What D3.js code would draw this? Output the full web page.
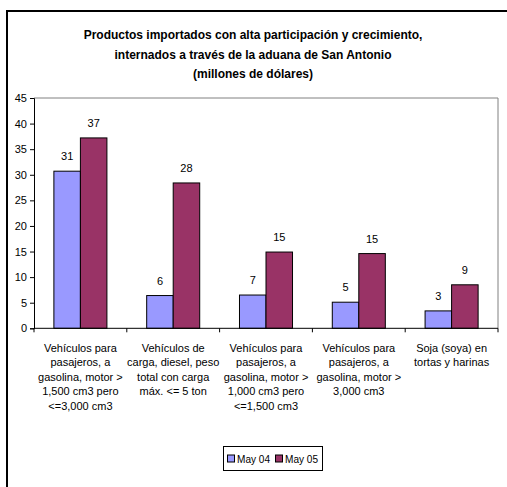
<!DOCTYPE html>
<html><head><meta charset="utf-8">
<script src="https://cdn.jsdelivr.net/npm/d3@7"></script>
<style>
html,body{margin:0;padding:0;background:#fff;}
svg{display:block;font-family:"Liberation Sans",Arial,sans-serif;}
</style></head><body>
<script>
const titleLines = ["Productos importados con alta participación y crecimiento,",
  "internados a través de la aduana de San Antonio",
  "(millones de dólares)"];
const categories = [
  ["Vehículos para","pasajeros, a","gasolina, motor >","1,500 cm3 pero","<=3,000 cm3"],
  ["Vehículos de","carga, diesel, peso","total con carga","máx. <= 5 ton"],
  ["Vehículos para","pasajeros, a","gasolina, motor >","1,000 cm3 pero","<=1,500 cm3"],
  ["Vehículos para","pasajeros, a","gasolina, motor >","3,000 cm3"],
  ["Soja (soya) en","tortas y harinas"]
];
const seriesNames = ["May 04","May 05"];
const may04 = [30.7, 6.4, 6.5, 5.1, 3.4];
const may05 = [37.2, 28.4, 14.9, 14.6, 8.5];
const yTicks = [0,5,10,15,20,25,30,35,40,45];
const colors = ["#9999FF","#993366"];

(function(){
const W=507,H=487;
const svg=d3.select("body").append("svg").attr("width",W).attr("height",H);
svg.append("rect").attr("x",7).attr("y",11).attr("width",520).attr("height",500)
  .attr("fill","#fff").attr("stroke","#000").attr("stroke-width",2);

svg.append("g").selectAll("text").data(titleLines).join("text")
  .attr("x",253).attr("y",(d,i)=>39+i*19.5).attr("text-anchor","middle")
  .attr("font-weight","bold").attr("font-size","12px").text(d=>d);

const pL=34,pR=498,pT=98,pB=328.3;
const y=d3.scaleLinear().domain([0,45]).range([pB,pT]);
const idx=d3.range(categories.length);
const x0=d3.scaleBand().domain(idx).range([pL,pR]).padding(0);
const x1=d3.scaleBand().domain([0,1]).range([0,x0.bandwidth()]).paddingInner(0).paddingOuter(0.75);

svg.append("path").attr("d",`M${pL},${pT}H${pR}V${pB}`).attr("fill","none")
  .attr("stroke","#808080").attr("stroke-width",1);

const yAxis=svg.append("g").attr("transform",`translate(${pL},0)`)
  .call(d3.axisLeft(y).tickValues(yTicks).tickSize(4).tickPadding(3));
yAxis.select(".domain").attr("stroke","#000");
yAxis.selectAll("text").attr("font-size","11px").attr("font-family","Liberation Sans,Arial,sans-serif").attr("fill","#000");

const vals=[may04,may05];
const g=svg.append("g");
idx.forEach(i=>{
  [0,1].forEach(s=>{
    const v=vals[s][i];
    g.append("rect").attr("x",x0(i)+x1(s)).attr("y",y(v))
      .attr("width",x1.bandwidth()).attr("height",y(0)-y(v))
      .attr("fill",colors[s]).attr("stroke","#000").attr("stroke-width",1);
    g.append("text").attr("x",x0(i)+x1(s)+x1.bandwidth()/2).attr("y",y(v)-11)
      .attr("text-anchor","middle").attr("font-size","11px").text(Math.round(v));
  });
});

const xTickPos=d3.range(categories.length+1).map(i=>pL+i*x0.step());
svg.append("line").attr("x1",pL).attr("x2",pR).attr("y1",pB).attr("y2",pB).attr("stroke","#000");
svg.append("g").selectAll("line").data(xTickPos).join("line")
  .attr("x1",d=>d).attr("x2",d=>d).attr("y1",pB).attr("y2",pB+4).attr("stroke","#000");

const cl=svg.append("g");
categories.forEach((lines,i)=>{
  const cx=x0(i)+x0.bandwidth()/2;
  const t=cl.append("text").attr("x",cx).attr("y",352)
    .attr("text-anchor","middle").attr("font-size","11px");
  lines.forEach((ln,j)=>t.append("tspan").attr("x",cx).attr("y",352+j*14.4).text(ln));
});

const lg=svg.append("g");
lg.append("rect").attr("x",223.5).attr("y",446.5).attr("width",99).attr("height",24).attr("fill","#fff").attr("stroke","#000");
const legX=[227.5,275.5];
seriesNames.forEach((n,i)=>{
  lg.append("rect").attr("x",legX[i]).attr("y",455).attr("width",7).attr("height",7)
    .attr("fill",colors[i]).attr("stroke","#000");
  lg.append("text").attr("x",legX[i]+9.5).attr("y",462.5).attr("font-size","10.5px")
    .attr("textLength",33).attr("lengthAdjust","spacingAndGlyphs").text(n);
});
})();
</script>
</body></html>
